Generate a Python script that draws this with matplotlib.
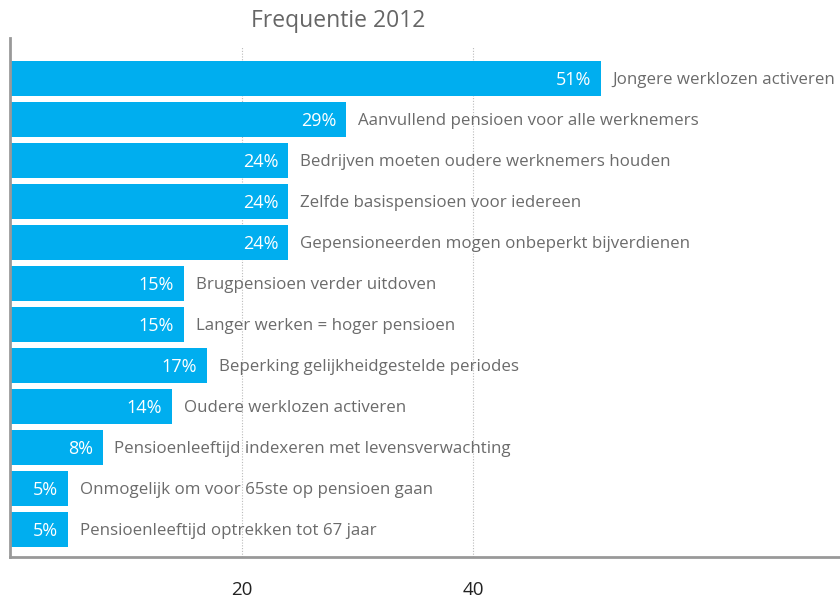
import matplotlib
matplotlib.use("Agg")
import matplotlib.pyplot as plt

categories = [
    "Jongere werklozen activeren",
    "Aanvullend pensioen voor alle werknemers",
    "Bedrijven moeten oudere werknemers houden",
    "Zelfde basispensioen voor iedereen",
    "Gepensioneerden mogen onbeperkt bijverdienen",
    "Brugpensioen verder uitdoven",
    "Langer werken = hoger pensioen",
    "Beperking gelijkheidgestelde periodes",
    "Oudere werklozen activeren",
    "Pensioenleeftijd indexeren met levensverwachting",
    "Onmogelijk om voor 65ste op pensioen gaan",
    "Pensioenleeftijd optrekken tot 67 jaar",
]
values = [51, 29, 24, 24, 24, 15, 15, 17, 14, 8, 5, 5]
xticks = [20, 40]
title = "Frequentie 2012"

plt.rcParams['font.family'] = ['Open Sans', 'DejaVu Sans']

fig = plt.figure(figsize=(8.4, 6.0), dpi=100)
ax = fig.add_axes([10/840, 1 - 557/600, 1 - 10/840, (557 - 38)/600])

bar_color = "#00AEEF"
text_gray = "#6b6b6b"
ypos = list(range(len(categories)))
ax.barh(ypos, values, height=0.85, color=bar_color, zorder=2)

for y, v, c in zip(ypos, values, categories):
    ax.annotate(f"{v}%", (v, y), xytext=(-7, -1), textcoords="offset points",
                ha="right", va="center", color="white", fontsize=13, zorder=3)
    ax.annotate(c, (v, y), xytext=(8.5, -1), textcoords="offset points",
                ha="left", va="center", color=text_gray, fontsize=12.2, zorder=3)

ax.set_xlim(0, 830/11.58)
ax.set_ylim(11.68, -0.99)
ax.set_xticks(xticks)
ax.set_xticklabels([str(t) for t in xticks], fontsize=13.5, color="#222222")
ax.tick_params(axis="x", length=0, pad=17)
ax.set_yticks([])

for t in xticks:
    ax.plot([t, t], [11.68, -0.8], color="#bbbbbb", linestyle=(0, (1, 1.5)), linewidth=0.8, zorder=1)

for s in ["top", "right"]:
    ax.spines[s].set_visible(False)
for s in ["left", "bottom"]:
    ax.spines[s].set_color("#999999")
    ax.spines[s].set_linewidth(2)

fig.text(338/840, 1 - 21/600, title, ha="center", va="center", fontsize=16.5, color="#666666")

fig.savefig("out.png", dpi=100)
